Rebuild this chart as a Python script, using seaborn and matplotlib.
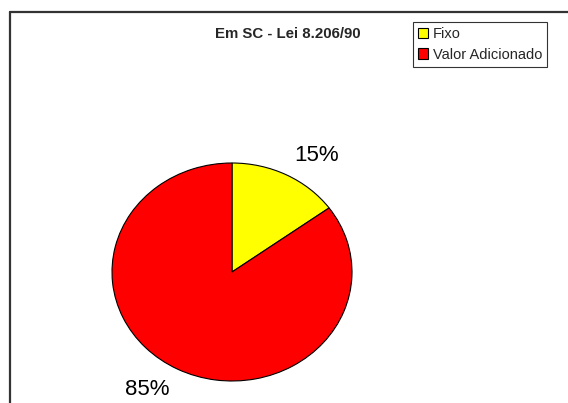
import matplotlib
matplotlib.use("Agg")
import matplotlib.pyplot as plt
import seaborn as sns
from matplotlib.lines import Line2D
from matplotlib.patches import Patch

categories = ["Fixo", "Valor Adicionado"]
values = [15, 85]
colors = ["#FFFF00", "#FF0000"]
title = "Em SC - Lei 8.206/90"

sns.set_theme(style="white")
plt.rcParams["font.family"] = ["Liberation Sans", "DejaVu Sans"]

W, H = 568, 403
fig = plt.figure(figsize=(W / 100, H / 100), dpi=100)
fig.patch.set_facecolor("white")

# pie axes placed in pixels (ellipse like the original)
px_l, px_r, px_t, px_b = 112, 352, 163, 381
ax = fig.add_axes([px_l / W, (H - px_b) / H, (px_r - px_l) / W, (px_b - px_t) / H])
pal = sns.color_palette(colors)
labels = [f"{v}%" for v in values]
wedges, texts = ax.pie(values, colors=pal, startangle=90, counterclock=False,
                       labels=labels, labeldistance=1.14,
                       wedgeprops=dict(edgecolor="black", linewidth=0.8),
                       textprops=dict(fontsize=16, color="black"))
for t in texts:
    x, y = t.get_position()
    t.set_ha("left" if x > 0 else "right")
    if y > 0:
        t.set_va("baseline")
    else:
        t.set_va("top")
        t.set_position((x, y * 0.97))
    t.set_clip_on(False)
ax.set_aspect("auto")
ax.set_xlim(-1, 1)
ax.set_ylim(-1, 1)
ax.axis("off")

fig.text(288 / W, 1 - 34.5 / H, title, ha="center", va="center",
         fontsize=10.8, fontweight="bold")

handles = [Patch(facecolor=c, edgecolor="black", linewidth=0.8) for c in colors]
leg = fig.legend(handles, categories, loc="upper left",
                 bbox_to_anchor=(413 / W, 1 - 22 / H), borderaxespad=0,
                 fontsize=10.5, frameon=True, fancybox=False, shadow=False,
                 handlelength=0.7, handleheight=0.7, handletextpad=0.3,
                 labelspacing=0.45, borderpad=0.35)
leg.get_frame().set_edgecolor("black")
leg.get_frame().set_linewidth(0.8)

# figure border (left and top edges)
fig.add_artist(Line2D([10 / W, 10 / W], [0, 1 - 12 / H], color="#333333", lw=1.6))
fig.add_artist(Line2D([10 / W, 1], [1 - 12 / H, 1 - 12 / H], color="#333333", lw=1.6))

fig.savefig("out.png", dpi=100, facecolor="white")
